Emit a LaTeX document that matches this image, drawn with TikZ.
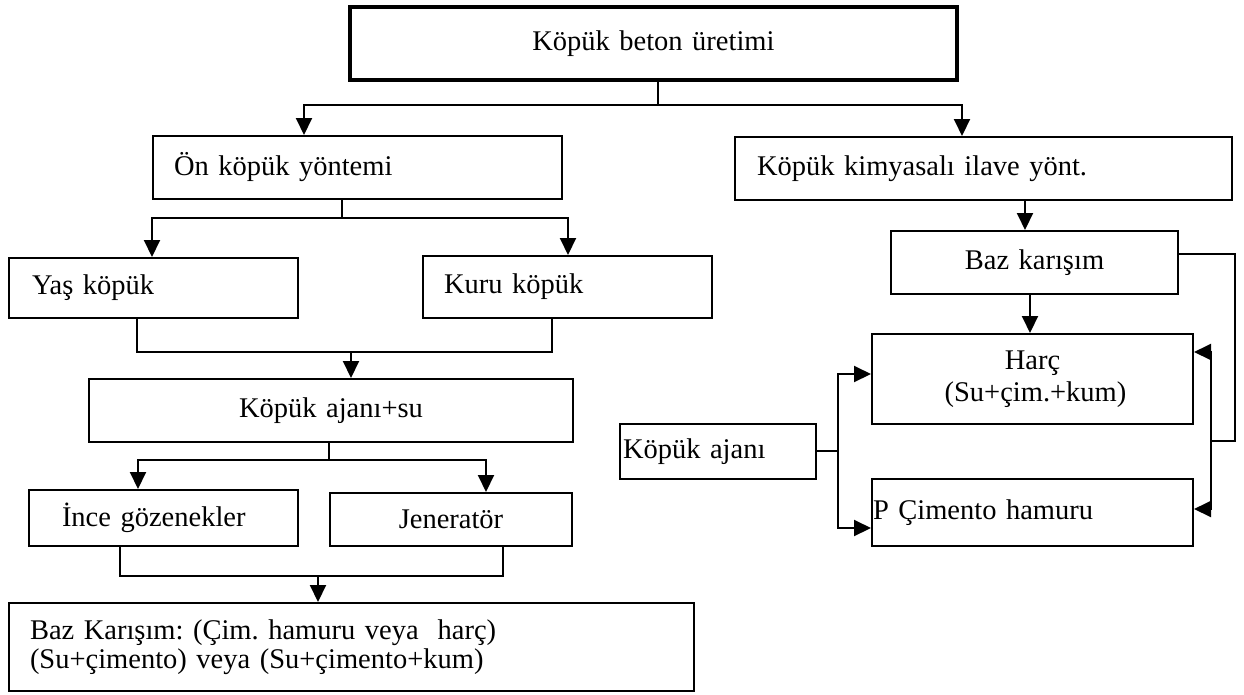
\documentclass[tikz,border=0pt]{standalone}
\usepackage{fontspec}
\setmainfont{Liberation Serif}
\usetikzlibrary{arrows.meta}
\frenchspacing
\begin{document}
\begin{tikzpicture}[x=1pt,y=-1pt,
  box/.style={draw, line width=2pt, rectangle, inner ysep=0pt, anchor=north west,
    font=\fontsize{28.5}{32}\selectfont\frenchspacing},
  cbox/.style={box, inner xsep=0pt, align=center},
  lbox/.style={box, align=left},
  conn/.style={line width=2pt},
  arr/.style={line width=2pt, -{Triangle[length=17pt,width=16pt]}},
]
\useasboundingbox (0,0) rectangle (1244,694);

% boxes
\node[cbox, line width=3.8pt, minimum width=607pt, minimum height=73pt, text width=607pt] (top) at (348,5) {\raisebox{3pt}{Köpük beton üretimi}};
\node[lbox, minimum width=409pt, minimum height=63pt, inner xsep=21pt, text width=367pt] (on) at (152,135) {Ön köpük yöntemi};
\node[lbox, minimum width=497pt, minimum height=63pt, inner xsep=22pt, text width=453pt] (kim) at (734,136) {Köpük kimyasalı ilave yönt.};
\node[lbox, minimum width=289pt, minimum height=60pt, inner xsep=23pt, text width=243pt] (yas) at (8,257) {Yaş köpük};
\node[lbox, minimum width=289pt, minimum height=62pt, inner xsep=21pt, text width=247pt] (kuru) at (422,255) {Kuru köpük};
\node[cbox, minimum width=484pt, minimum height=63pt, text width=484pt] (ajsu) at (88,378) {Köpük ajanı+su};
\node[lbox, minimum width=269pt, minimum height=56pt, inner xsep=33pt, text width=203pt] (ince) at (28,489) {İnce gözenekler};
\node[cbox, minimum width=242pt, minimum height=53pt, text width=242pt] (jen) at (329,492) {Jeneratör};
\node[lbox, minimum width=685pt, minimum height=88pt, inner xsep=21pt, text width=643pt,
  font=\fontsize{28.5}{29}\selectfont\frenchspacing] (baz) at (8,602) {Baz Karışım: (Çim. hamuru veya~ harç)\\(Su+çimento) veya (Su+çimento+kum)};
\node[cbox, minimum width=287pt, minimum height=63pt, text width=287pt] (bazk) at (890,230) {Baz karışım};
\node[cbox, minimum width=321pt, minimum height=90pt, text width=321pt] (harc) at (871,333) {Harç\\\hspace*{6pt}(Su+çim.+kum)};
\node[lbox, minimum width=196pt, minimum height=55pt, inner xsep=3pt, text width=190pt] (ajani) at (619,423) {Köpük ajanı};
\node[lbox, minimum width=321pt, minimum height=67pt, inner xsep=1pt, text width=319pt] (pcim) at (871,478) {P Çimento hamuru};

% helper coordinates
\coordinate (j1) at (658,105);
\coordinate (a1) at (304,0);
\coordinate (a2) at (962,0);
\coordinate (j2) at (342,218);
\coordinate (a3) at (152,0);
\coordinate (a4) at (568,0);
\coordinate (b1) at (137,0);
\coordinate (b2) at (552,0);
\coordinate (j3) at (351,352);
\coordinate (j4) at (329,460);
\coordinate (a5) at (138,0);
\coordinate (a6) at (486,0);
\coordinate (b3) at (120,0);
\coordinate (b4) at (503,0);
\coordinate (j5) at (318,576);
\coordinate (c1) at (1025,0);
\coordinate (c2) at (1030,0);
\coordinate (r1) at (1235,254);
\coordinate (r2) at (1211,441);
\coordinate (r3) at (1211,352);
\coordinate (r4) at (1211,509);
\coordinate (l1) at (838,451);
\coordinate (l2) at (838,374);
\coordinate (l3) at (838,528);

% connectors left tree
\draw[conn] (top.south -| j1) -- (j1);
\draw[arr] (j1) -| (on.north -| a1);
\draw[arr] (j1) -| (kim.north -| a2);
\draw[conn] (on.south -| j2) -- (j2);
\draw[arr] (j2) -| (yas.north -| a3);
\draw[arr] (j2) -| (kuru.north -| a4);
\draw[conn] (yas.south -| b1) |- (j3) -| (kuru.south -| b2);
\draw[arr] (j3) -- (ajsu.north -| j3);
\draw[conn] (ajsu.south -| j4) -- (j4);
\draw[arr] (j4) -| (ince.north -| a5);
\draw[arr] (j4) -| (jen.north -| a6);
\draw[conn] (ince.south -| b3) |- (j5) -| (jen.south -| b4);
\draw[arr] (j5) -- (baz.north -| j5);

% right side
\draw[arr] (kim.south -| c1) -- (bazk.north -| c1);
\draw[arr] (bazk.south -| c2) -- (harc.north -| c2);
\draw[conn] (bazk.east |- r1) -- (r1) |- (r2);
\draw[arr] (r2) -- (r3) -- (harc.east |- r3);
\draw[arr] (r2) -- (r4) -- (pcim.east |- r4);
\draw[conn] (ajani.east |- l1) -- (l1);
\draw[arr] (l1) -- (l2) -- (harc.west |- l2);
\draw[arr] (l1) -- (l3) -- (pcim.west |- l3);
\end{tikzpicture}
\end{document}
